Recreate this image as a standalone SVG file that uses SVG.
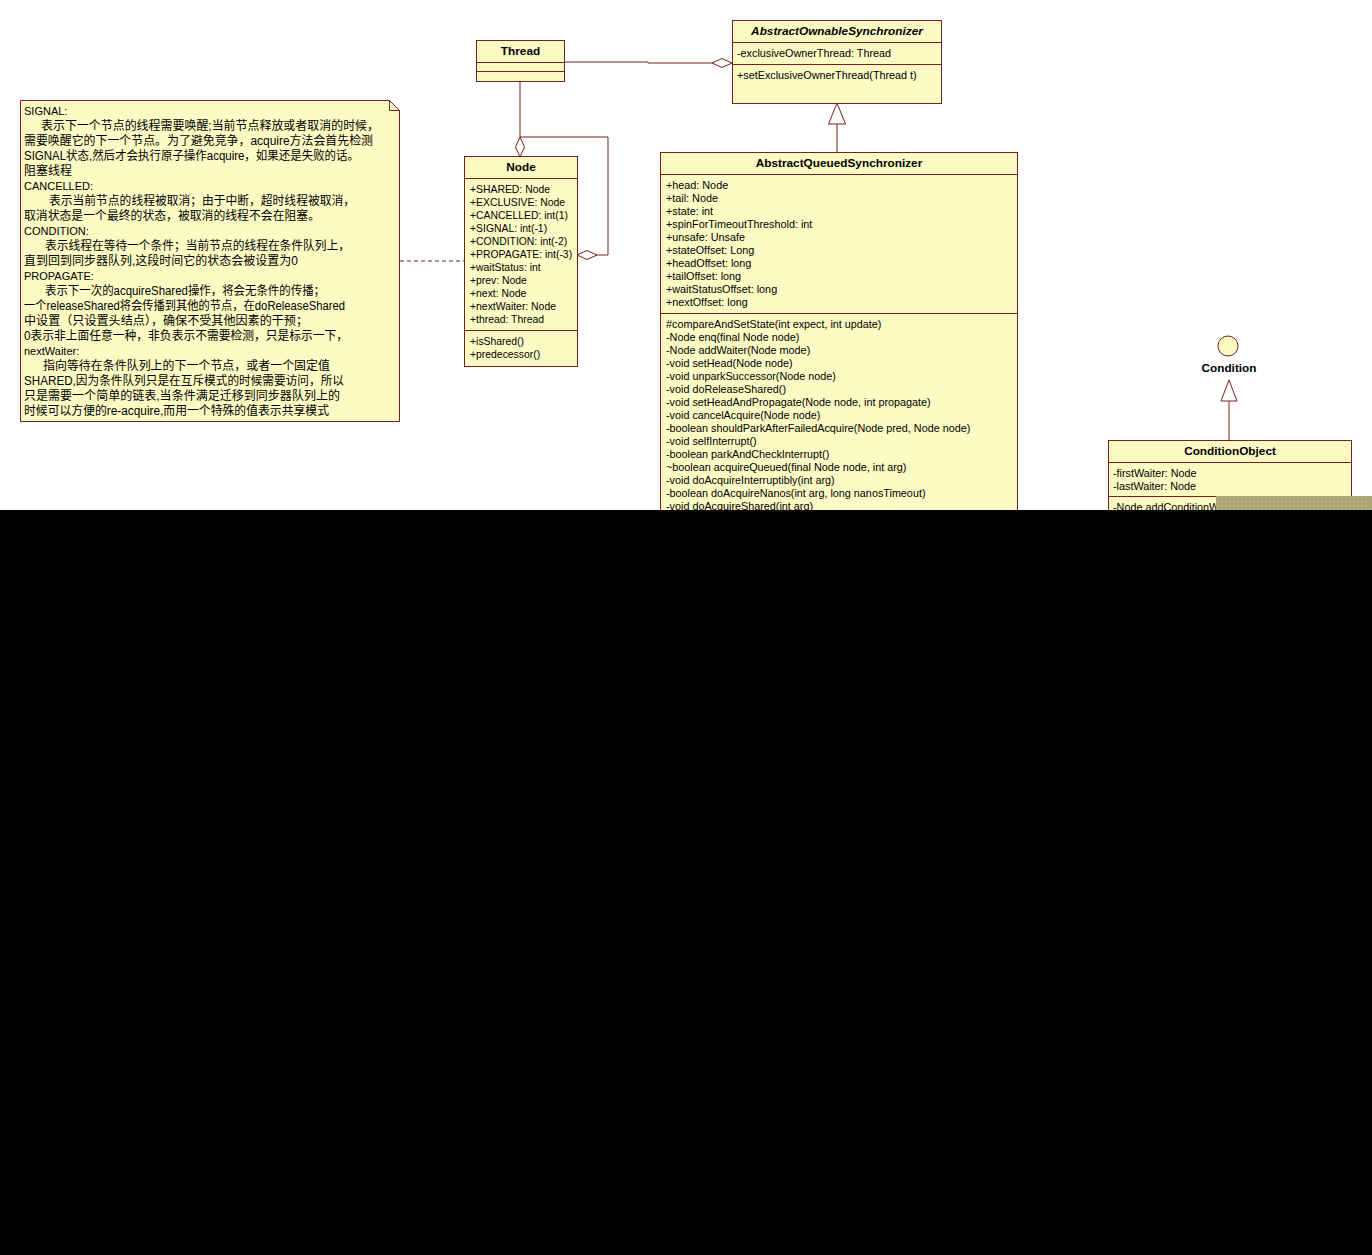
<svg xmlns="http://www.w3.org/2000/svg" width="1372" height="1255" viewBox="0 0 1372 1255">
<defs>
<style>
.box{fill:#fdfbc4;stroke:#7a1e1e;stroke-width:1}
.ln{fill:none;stroke:#7a1e1e;stroke-width:1}
.dia{fill:#ffffff;stroke:#7a1e1e;stroke-width:1}
.tri{fill:#ffffff;stroke:#7a1e1e;stroke-width:1}
.t{font-family:"Liberation Sans","Noto Sans CJK SC",sans-serif;font-size:10.8px;fill:#000}
.ts{font-family:"Liberation Sans",sans-serif;font-size:10.4px;fill:#000}
.h{font-family:"Liberation Sans",sans-serif;font-size:11.8px;font-weight:bold;fill:#000;text-anchor:middle}
.n{font-family:"Liberation Sans","Noto Sans CJK SC",sans-serif;font-size:12px;fill:#000}
.nl{font-family:"Liberation Sans",sans-serif;font-size:11px;fill:#000}
</style>
<pattern id="dots" width="4" height="4" patternUnits="userSpaceOnUse">
<rect width="4" height="4" fill="#aba574"/>
<rect x="1" y="1" width="1" height="1" fill="#c9c49a"/>
</pattern>
</defs>
<rect width="1372" height="1255" fill="#ffffff"/>

<g id="connectors">
<polyline class="ln" points="564,62 648,62 648,63 712,63"/>
<polygon class="dia" points="732,63 722,58.5 712,63 722,67.5"/>
<line class="ln" x1="520" y1="81" x2="520" y2="137"/>
<polygon class="dia" points="520,157 515.5,147 520,137 524.5,147"/>
<polyline class="ln" points="520,137 608,137 608,255 597,255"/>
<polygon class="dia" points="577,255 587,250.5 597,255 587,259.5"/>
<line class="ln" x1="837" y1="124" x2="837" y2="152"/>
<polygon class="tri" points="837,103 828.5,124 845.5,124"/>
<line class="ln" x1="1229" y1="401" x2="1229" y2="440"/>
<polygon class="tri" points="1229,380 1221,401 1237,401"/>
<line x1="400" y1="261" x2="464" y2="261" stroke="#7a1e1e" stroke-width="1" stroke-dasharray="4,3"/>
</g>

<g id="note">
<path class="box" d="M20.5,100.5 H389.5 L399.5,110.5 V421.5 H20.5 Z"/>
<polyline class="ln" points="389.5,100.5 389.5,110.5 399.5,110.5"/>
<text class="nl" x="24" y="115">SIGNAL:</text>
<text class="n" x="41" y="130" textLength="338" lengthAdjust="spacingAndGlyphs">表示下一个节点的线程需要唤醒;当前节点释放或者取消的时候，</text>
<text class="n" x="24" y="145" textLength="349" lengthAdjust="spacingAndGlyphs">需要唤醒它的下一个节点。为了避免竞争，acquire方法会首先检测</text>
<text class="n" x="24" y="160" textLength="335" lengthAdjust="spacingAndGlyphs">SIGNAL状态,然后才会执行原子操作acquire，如果还是失败的话。</text>
<text class="n" x="24" y="175">阻塞线程</text>
<text class="nl" x="24" y="190">CANCELLED:</text>
<text class="n" x="49" y="205" textLength="306" lengthAdjust="spacingAndGlyphs">表示当前节点的线程被取消；由于中断，超时线程被取消，</text>
<text class="n" x="24" y="220" textLength="296" lengthAdjust="spacingAndGlyphs">取消状态是一个最终的状态，被取消的线程不会在阻塞。</text>
<text class="nl" x="24" y="235">CONDITION:</text>
<text class="n" x="45" y="250" textLength="305" lengthAdjust="spacingAndGlyphs">表示线程在等待一个条件；当前节点的线程在条件队列上，</text>
<text class="n" x="24" y="265" textLength="274" lengthAdjust="spacingAndGlyphs">直到回到同步器队列,这段时间它的状态会被设置为0</text>
<text class="nl" x="24" y="280">PROPAGATE:</text>
<text class="n" x="45" y="295" textLength="280" lengthAdjust="spacingAndGlyphs">表示下一次的acquireShared操作，将会无条件的传播；</text>
<text class="n" x="24" y="310" textLength="321" lengthAdjust="spacingAndGlyphs">一个releaseShared将会传播到其他的节点，在doReleaseShared</text>
<text class="n" x="24" y="325" textLength="284" lengthAdjust="spacingAndGlyphs">中设置（只设置头结点），确保不受其他因素的干预；</text>
<text class="n" x="24" y="340" textLength="324" lengthAdjust="spacingAndGlyphs">0表示非上面任意一种，非负表示不需要检测，只是标示一下，</text>
<text class="nl" x="24" y="355">nextWaiter:</text>
<text class="n" x="43" y="370" textLength="287" lengthAdjust="spacingAndGlyphs">指向等待在条件队列上的下一个节点，或者一个固定值</text>
<text class="n" x="24" y="385" textLength="320" lengthAdjust="spacingAndGlyphs">SHARED,因为条件队列只是在互斥模式的时候需要访问，所以</text>
<text class="n" x="24" y="400" textLength="316" lengthAdjust="spacingAndGlyphs">只是需要一个简单的链表,当条件满足迁移到同步器队列上的</text>
<text class="n" x="24" y="415" textLength="305" lengthAdjust="spacingAndGlyphs">时候可以方便的re-acquire,而用一个特殊的值表示共享模式</text>
</g>

<g id="thread">
<rect class="box" x="476.5" y="40.5" width="88" height="41"/>
<line class="ln" x1="476.5" y1="62.5" x2="564.5" y2="62.5"/>
<line class="ln" x1="476.5" y1="71.5" x2="564.5" y2="71.5"/>
<text class="h" x="520.5" y="55">Thread</text>
</g>

<g id="aos">
<rect class="box" x="732.5" y="20.5" width="209" height="83"/>
<line class="ln" x1="732.5" y1="42.5" x2="941.5" y2="42.5"/>
<line class="ln" x1="732.5" y1="64.5" x2="941.5" y2="64.5"/>
<text class="h" x="837" y="35" font-style="italic">AbstractOwnableSynchronizer</text>
<text class="t" x="737" y="57">-exclusiveOwnerThread: Thread</text>
<text class="t" x="737" y="79">+setExclusiveOwnerThread(Thread t)</text>
</g>

<g id="node">
<rect class="box" x="464.5" y="156.5" width="113" height="210"/>
<line class="ln" x1="464.5" y1="178.5" x2="577.5" y2="178.5"/>
<line class="ln" x1="464.5" y1="330.5" x2="577.5" y2="330.5"/>
<text class="h" x="521" y="171">Node</text>
<text class="ts" x="470" y="193">+SHARED: Node</text>
<text class="ts" x="470" y="206">+EXCLUSIVE: Node</text>
<text class="ts" x="470" y="219">+CANCELLED: int(1)</text>
<text class="ts" x="470" y="232">+SIGNAL: int(-1)</text>
<text class="ts" x="470" y="245">+CONDITION: int(-2)</text>
<text class="ts" x="470" y="258">+PROPAGATE: int(-3)</text>
<text class="ts" x="470" y="271">+waitStatus: int</text>
<text class="ts" x="470" y="284">+prev: Node</text>
<text class="ts" x="470" y="297">+next: Node</text>
<text class="ts" x="470" y="310">+nextWaiter: Node</text>
<text class="ts" x="470" y="323">+thread: Thread</text>
<text class="ts" x="470" y="345">+isShared()</text>
<text class="ts" x="470" y="358">+predecessor()</text>
</g>

<g id="aqs">
<rect class="box" x="660.5" y="152.5" width="357" height="380"/>
<line class="ln" x1="660.5" y1="174.5" x2="1017.5" y2="174.5"/>
<line class="ln" x1="660.5" y1="313.5" x2="1017.5" y2="313.5"/>
<text class="h" x="839" y="167">AbstractQueuedSynchronizer</text>
<text class="t" x="666" y="189">+head: Node</text>
<text class="t" x="666" y="202">+tail: Node</text>
<text class="t" x="666" y="215">+state: int</text>
<text class="t" x="666" y="228">+spinForTimeoutThreshold: int</text>
<text class="t" x="666" y="241">+unsafe: Unsafe</text>
<text class="t" x="666" y="254">+stateOffset: Long</text>
<text class="t" x="666" y="267">+headOffset: long</text>
<text class="t" x="666" y="280">+tailOffset: long</text>
<text class="t" x="666" y="293">+waitStatusOffset: long</text>
<text class="t" x="666" y="306">+nextOffset: long</text>
<text class="t" x="666" y="328">#compareAndSetState(int expect, int update)</text>
<text class="t" x="666" y="341">-Node enq(final Node node)</text>
<text class="t" x="666" y="354">-Node addWaiter(Node mode)</text>
<text class="t" x="666" y="367">-void setHead(Node node)</text>
<text class="t" x="666" y="380">-void unparkSuccessor(Node node)</text>
<text class="t" x="666" y="393">-void doReleaseShared()</text>
<text class="t" x="666" y="406">-void setHeadAndPropagate(Node node, int propagate)</text>
<text class="t" x="666" y="419">-void cancelAcquire(Node node)</text>
<text class="t" x="666" y="432">-boolean shouldParkAfterFailedAcquire(Node pred, Node node)</text>
<text class="t" x="666" y="445">-void selfInterrupt()</text>
<text class="t" x="666" y="458">-boolean parkAndCheckInterrupt()</text>
<text class="t" x="666" y="471">~boolean acquireQueued(final Node node, int arg)</text>
<text class="t" x="666" y="484">-void doAcquireInterruptibly(int arg)</text>
<text class="t" x="666" y="497">-boolean doAcquireNanos(int arg, long nanosTimeout)</text>
<text class="t" x="666" y="510">-void doAcquireShared(int arg)</text>
</g>

<g id="condition">
<circle cx="1228" cy="346" r="10" class="box"/>
<text class="h" x="1229" y="372">Condition</text>
</g>

<g id="conditionobject">
<rect class="box" x="1108.5" y="440.5" width="243" height="90"/>
<line class="ln" x1="1108.5" y1="462.5" x2="1351.5" y2="462.5"/>
<line class="ln" x1="1108.5" y1="496.5" x2="1351.5" y2="496.5"/>
<text class="h" x="1230" y="455">ConditionObject</text>
<text class="t" x="1113" y="477">-firstWaiter: Node</text>
<text class="t" x="1113" y="490">-lastWaiter: Node</text>
<text class="t" x="1113" y="511">-Node addConditionW</text>
</g>

<rect x="1216" y="496" width="156" height="14" fill="url(#dots)"/>
<rect x="0" y="510" width="1372" height="745" fill="#000000"/>
</svg>
